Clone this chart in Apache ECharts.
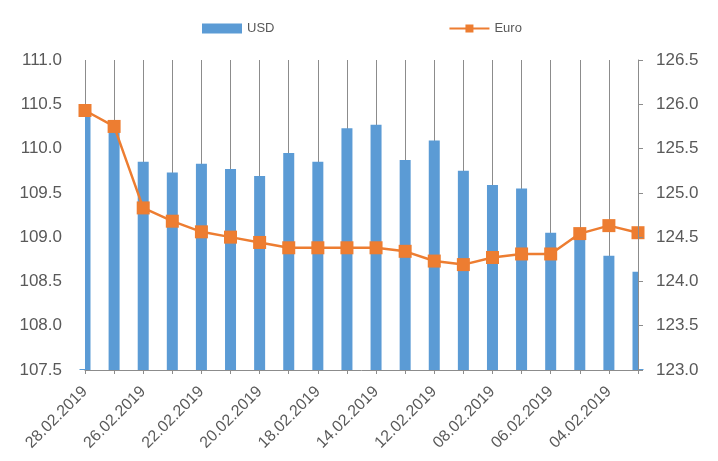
<!DOCTYPE html>
<html>
<head>
<meta charset="utf-8">
<script src="https://cdn.jsdelivr.net/npm/echarts@6/dist/echarts.min.js"></script>
<style>
  html, body { margin: 0; padding: 0; background: #fff; }
  #main { width: 718px; height: 461px; }
</style>
</head>
<body>
<div id="main"></div>
<script>
var dates = ['28.02.2019', '27.02.2019', '26.02.2019', '25.02.2019', '22.02.2019',
    '21.02.2019', '20.02.2019', '19.02.2019', '18.02.2019', '15.02.2019',
    '14.02.2019', '13.02.2019', '12.02.2019', '11.02.2019', '08.02.2019',
    '07.02.2019', '06.02.2019', '05.02.2019', '04.02.2019', '01.02.2019'];
var usd = [110.40, 110.26, 109.85, 109.73, 109.83, 109.77, 109.69, 109.95, 109.85, 110.23,
    110.27, 109.87, 110.09, 109.75, 109.59, 109.55, 109.05, 109.08, 108.79, 108.61];
var euro = [125.93, 125.75, 124.83, 124.68, 124.56, 124.50, 124.44, 124.38, 124.38, 124.38,
    124.38, 124.34, 124.23, 124.19, 124.27, 124.31, 124.31, 124.54, 124.63, 124.55];

var myChart = echarts.init(document.getElementById('main'));
var font = '"Liberation Sans", Arial, sans-serif';
var grey = '#595959';
var lineGrey = '#8c8c8c';

var option = {
    animation: false,
    textStyle: { fontFamily: font },
    legend: {
        left: 197,
        top: 17,
        itemWidth: 40,
        itemHeight: 10,
        itemGap: 174,
        textStyle: { color: grey, fontSize: 13, fontFamily: font },
        data: [
            { name: 'USD', icon: 'rect' },
            { name: 'Euro' }
        ]
    },
    grid: { left: 85, right: 80, top: 60, bottom: 91 },
    // white strips hide the outer halves of the first and last bars (clipped like the original)
    graphic: [
        { type: 'rect', z: 3, shape: { x: 70, y: 58, width: 15, height: 311 }, style: { fill: '#fff' } },
        { type: 'rect', z: 3, shape: { x: 639, y: 58, width: 12, height: 311 }, style: { fill: '#fff' } }
    ],
    xAxis: {
        type: 'category',
        data: dates,
        boundaryGap: false,
        axisLine: { lineStyle: { color: lineGrey, width: 1 } },
        axisTick: { interval: 0, length: 4, lineStyle: { color: lineGrey } },
        splitLine: { show: true, interval: 0, lineStyle: { color: lineGrey, width: 1 } },
        axisLabel: {
            interval: 1,
            rotate: 45,
            fontSize: 16,
            color: grey,
            margin: 19
        }
    },
    yAxis: [
        {
            type: 'value',
            min: 107.5,
            max: 111,
            interval: 0.5,
            axisLine: { show: false },
            axisTick: { show: false },
            splitLine: { show: false },
            axisLabel: {
                fontSize: 17,
                color: grey,
                margin: 23,
                formatter: function (v) { return v.toFixed(1); }
            }
        },
        {
            type: 'value',
            min: 123,
            max: 126.5,
            interval: 0.5,
            position: 'right',
            z: 5,
            axisLine: { show: true, lineStyle: { color: lineGrey } },
            axisTick: { show: true, length: 5, lineStyle: { color: lineGrey } },
            splitLine: { show: false },
            axisLabel: {
                fontSize: 17,
                color: grey,
                margin: 18,
                formatter: function (v) { return v.toFixed(1); }
            }
        }
    ],
    series: [
        {
            name: 'USD',
            type: 'bar',
            yAxisIndex: 0,
            barWidth: 11,
            z: 2,
            itemStyle: { color: '#5B9BD5' },
            data: usd
        },
        {
            name: 'Euro',
            type: 'line',
            yAxisIndex: 1,
            symbol: 'rect',
            symbolSize: 13,
            z: 4,
            lineStyle: { color: '#ED7D31', width: 2.5 },
            itemStyle: { color: '#ED7D31' },
            data: euro
        }
    ]
};

option && myChart.setOption(option);
</script>
</body>
</html>
